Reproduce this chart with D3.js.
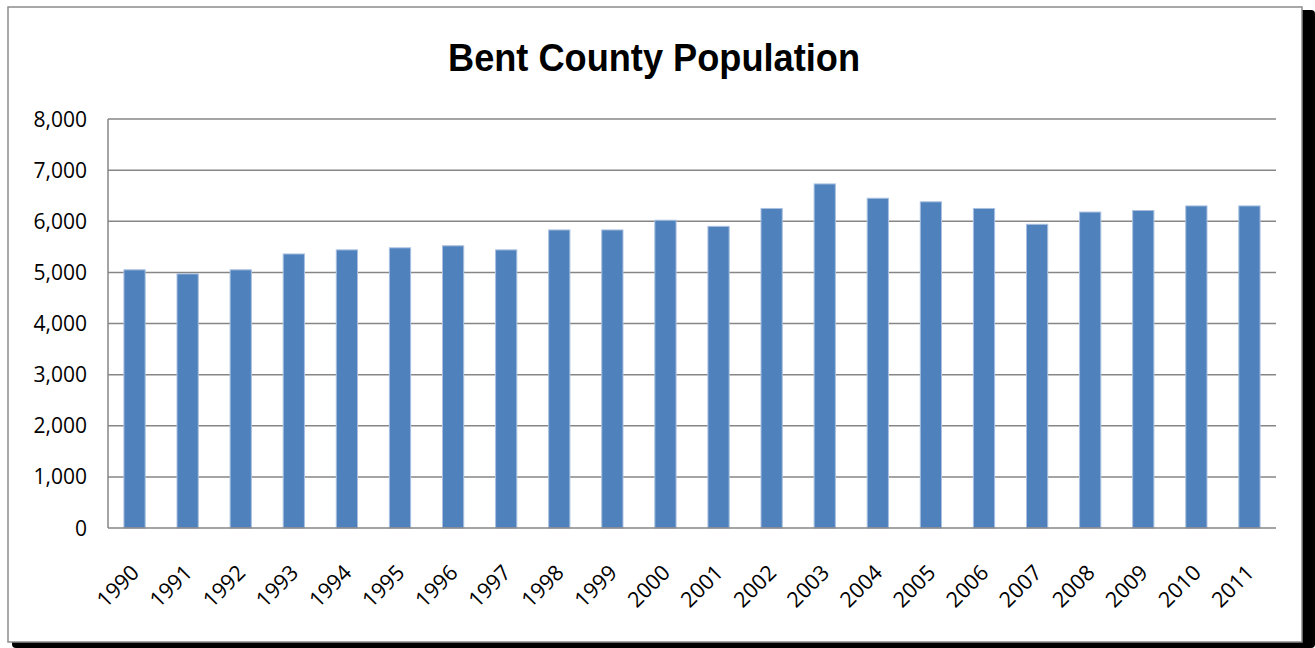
<!DOCTYPE html>
<html>
<head>
<meta charset="utf-8">
<script src="https://cdn.jsdelivr.net/npm/d3@7"></script>
<style>
html,body{margin:0;padding:0;background:#fff;}
svg{display:block;}
</style>
</head>
<body>
<svg id="chart" width="1315" height="648"></svg>
<script>
const years = ["1990","1991","1992","1993","1994","1995","1996","1997","1998","1999","2000","2001","2002","2003","2004","2005","2006","2007","2008","2009","2010","2011"];
const population = [5050,4970,5050,5360,5440,5480,5520,5440,5830,5830,6020,5900,6250,6730,6450,6380,6250,5940,6180,6210,6300,6300];
const yTicks = [0,1000,2000,3000,4000,5000,6000,7000,8000];
const title = "Bent County Population";

const svg = d3.select("#chart");
const W = 1315, H = 648;

// shadow and frame
svg.append("rect").attr("x",12).attr("y",10).attr("width",W-12).attr("height",H-10).attr("rx",4).attr("fill","#000");
svg.append("rect").attr("x",8).attr("y",7).attr("width",1294).attr("height",635).attr("fill","#fff").attr("stroke","#8c8c8c").attr("stroke-width",1.5);

const m = {left:108, right:1276, top:119, bottom:528};
const x = d3.scaleBand().domain(years).range([m.left,m.right]).paddingInner(0.6).paddingOuter(0.3);
const y = d3.scaleLinear().domain([0,8000]).range([m.bottom,m.top]);

// gridlines
svg.append("g").selectAll("line").data(yTicks.filter(d=>d>0)).join("line")
  .attr("x1",m.left).attr("x2",m.right)
  .attr("y1",d=>y(d)).attr("y2",d=>y(d))
  .attr("stroke","#868686").attr("stroke-width",1.5);

// bars
svg.append("g").selectAll("rect").data(years).join("rect")
  .attr("x",d=>x(d)).attr("width",x.bandwidth())
  .attr("y",(d,i)=>y(population[i])).attr("height",(d,i)=>y(0)-y(population[i]))
  .attr("fill","#4F81BD").attr("stroke","#a9c0e0").attr("stroke-width",1);

// axes lines
svg.append("line").attr("x1",m.left).attr("x2",m.left).attr("y1",m.top).attr("y2",m.bottom).attr("stroke","#868686").attr("stroke-width",1.5);
svg.append("line").attr("x1",m.left).attr("x2",m.right).attr("y1",m.bottom).attr("y2",m.bottom).attr("stroke","#868686").attr("stroke-width",1.5);

// y labels
const fmt = d3.format(",");
svg.append("g").selectAll("text").data(yTicks).join("text")
  .attr("x",87).attr("y",d=>y(d)).attr("dy","0.36em")
  .attr("text-anchor","end")
  .attr("font-family","'Open Sans', sans-serif").attr("font-size",21)
  .attr("fill","#000").text(d=>fmt(d));

// x labels
svg.append("g").selectAll("text").data(years).join("text")
  .attr("transform",d=>`translate(${x(d)+x.bandwidth()/2+6},${574}) rotate(-45)`)
  .attr("text-anchor","end")
  .attr("font-family","'Open Sans', sans-serif").attr("font-size",21.5)
  .attr("fill","#000").text(d=>d);

// title
svg.append("text").attr("x",654).attr("y",71).attr("text-anchor","middle")
  .attr("font-family","'Liberation Sans', Arial, sans-serif").attr("font-weight","bold").attr("font-size",39)
  .attr("textLength",412).attr("lengthAdjust","spacingAndGlyphs")
  .attr("fill","#000").text(title);
</script>
</body>
</html>
